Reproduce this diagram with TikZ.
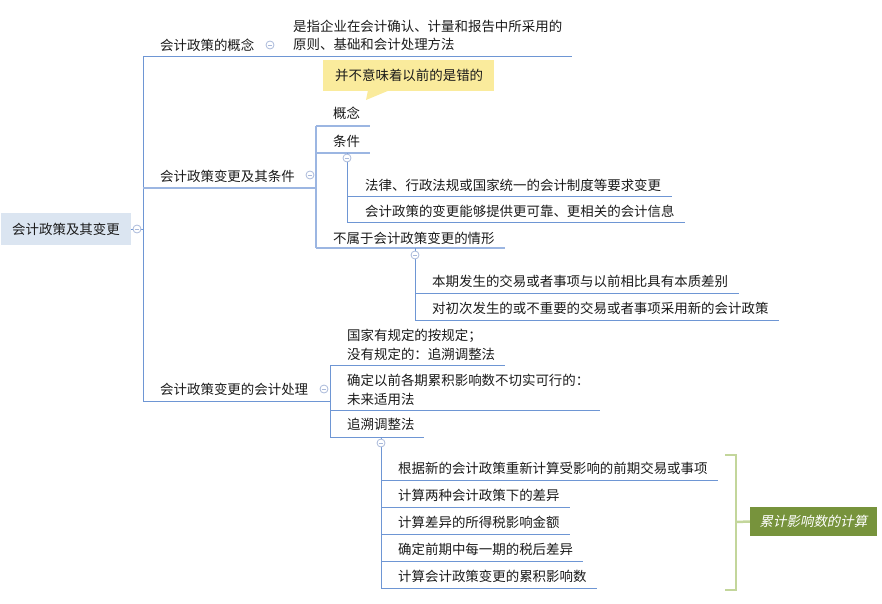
\documentclass[tikz,border=0pt]{standalone}
\usepackage{fontspec}
\setmainfont{Noto Sans CJK SC}
\newfontfamily\slfont[FakeSlant=0.2]{Noto Sans CJK SC}
\definecolor{lc}{HTML}{6E96D4}
\definecolor{lc2}{HTML}{9CB6E2}
\definecolor{cc}{HTML}{A9B9DA}
\definecolor{tc}{HTML}{1A1A1A}
\definecolor{rootfill}{HTML}{DBE5F1}
\definecolor{callfill}{HTML}{FAEB9C}
\definecolor{grn}{HTML}{77933C}
\definecolor{brk}{HTML}{C3D69B}
\newcommand\fs{\fontsize{13.45}{19}\selectfont}
\newcommand\twol[2]{\vtop{\baselineskip=18.5pt\hbox{#1}\hbox{#2}}}
\tikzset{
  txt/.style={anchor=base west, inner sep=0pt, font=\fs, text=tc},
  ln/.style={draw=lc, line width=1pt},
  ln2/.style={draw=lc2, line width=1.6pt},
  col/.style={circle, draw=cc, fill=white, minimum size=8pt, inner sep=0pt, line width=0.8pt,
    path picture={\draw[cc, line width=0.8pt] ([xshift=-2.2pt]path picture bounding box.center) -- ([xshift=2.2pt]path picture bounding box.center);}},
}
\begin{document}
\begin{tikzpicture}[x=1pt,y=-1pt]
\useasboundingbox (0,0) rectangle (882,604);
% root
\node[fill=rootfill, minimum width=130pt, minimum height=32pt, inner sep=0pt, font=\fs, text=tc] (root) at (66,229) {会计政策及其变更};
\coordinate (sp0t) at (143,57);
\coordinate (sp0b) at (143,401);
\draw[ln] (root.east) -- (143,229);
\draw[ln] (sp0t) -- (sp0b);
\node[col] (cr) at (137,229) {};

% branch 1
\node[txt] (b1) at (160,50.5) {会计政策的概念};
\node[txt] (b1c) at (293,31.5) {\twol{是指企业在会计确认、计量和报告中所采用的}{原则、基础和会计处理方法}};
\draw[ln] (sp0t) -- (572,57);
\node[col] (c1) at (270,45) {};

% callout
\fill[callfill] (323,60) rectangle (494,91);
\fill[callfill] (368,90) -- (366,100) -- (390,90) -- cycle;
\node[txt] (call) at (335,80.5) {并不意味着以前的是错的};

% branch 2
\node[txt] (b2) at (160,181.5) {会计政策变更及其条件};
\coordinate (sp2t) at (316,126);
\coordinate (sp2b) at (316,248);
\draw[ln2] (143,188) -- (316,188);
\draw[ln2] (sp2t) -- (sp2b);
\node[col] (c2) at (310,175) {};
\node[txt] (b2a) at (333,118.5) {概念};
\draw[ln2] (sp2t) -- (370,126);
\node[txt] (b2b) at (333,146.5) {条件};
\draw[ln2] (316,153) -- (370,153);
\node[txt] (b2c) at (333,243.5) {不属于会计政策变更的情形};
\draw[ln2] (sp2b) -- (505,248);
% 条件 children
\coordinate (sp3t) at (347,153);
\coordinate (sp3b) at (347,222);
\draw[ln] (sp3t) -- (sp3b);
\node[col] (c3) at (347,158) {};
\node[txt] (b2b1) at (365,190.5) {法律、行政法规或国家统一的会计制度等要求变更};
\draw[ln] (347,196) -- (672,196);
\node[txt] (b2b2) at (365,216.5) {会计政策的变更能够提供更可靠、更相关的会计信息};
\draw[ln] (sp3b) -- (685,222);
% 不属于 children
\coordinate (sp4t) at (415,248);
\coordinate (sp4b) at (415,320);
\draw[ln] (sp4t) -- (sp4b);
\node[col] (c4) at (415,255) {};
\node[txt] (b2c1) at (432,286.5) {本期发生的交易或者事项与以前相比具有本质差别};
\draw[ln] (415,293) -- (739,293);
\node[txt] (b2c2) at (432,313.5) {对初次发生的或不重要的交易或者事项采用新的会计政策};
\draw[ln] (sp4b) -- (779,320);

% branch 3
\node[txt] (b3) at (160,394.5) {会计政策变更的会计处理};
\draw[ln] (sp0b) -- (330,401);
\coordinate (sp5t) at (330,365);
\coordinate (sp5b) at (330,437);
\draw[ln] (sp5t) -- (sp5b);
\node[col] (c5) at (324,389) {};
\node[txt] (b3a) at (347,340.5) {\twol{国家有规定的按规定；}{没有规定的：追溯调整法}};
\draw[ln] (sp5t) -- (505,365);
\node[txt] (b3b) at (347,385.5) {\twol{确定以前各期累积影响数不切实可行的：}{未来适用法}};
\draw[ln] (330,410) -- (600,410);
\node[txt] (b3c) at (347,429.5) {追溯调整法};
\draw[ln] (sp5b) -- (424,437);
% 追溯调整法 children
\coordinate (sp6t) at (381,437);
\coordinate (sp6b) at (381,588);
\draw[ln] (sp6t) -- (sp6b);
\node[col] (c6) at (381,443) {};
\node[txt] (d1) at (398,473.5) {根据新的会计政策重新计算受影响的前期交易或事项};
\draw[ln] (381,480) -- (718,480);
\node[txt] (d2) at (398,500.5) {计算两种会计政策下的差异};
\draw[ln] (381,507) -- (570,507);
\node[txt] (d3) at (398,527.5) {计算差异的所得税影响金额};
\draw[ln] (381,534) -- (570,534);
\node[txt] (d4) at (398,554.5) {确定前期中每一期的税后差异};
\draw[ln] (381,561) -- (583,561);
\node[txt] (d5) at (398,581.5) {计算会计政策变更的累积影响数};
\draw[ln] (sp6b) -- (597,588);

% bracket and label
\node[fill=grn, minimum width=127pt, minimum height=29pt, inner sep=0pt, font=\fs\slfont, text=white] (lab) at (813.5,521.5) {累计影响数的计算};
\coordinate (bk) at (736,522);
\draw[brk, line width=2.5pt] (725,455) -- (736,455) -- (736,590) -- (725,590);
\draw[brk, line width=2.5pt] (bk) -- (lab.west);
\end{tikzpicture}
\end{document}
